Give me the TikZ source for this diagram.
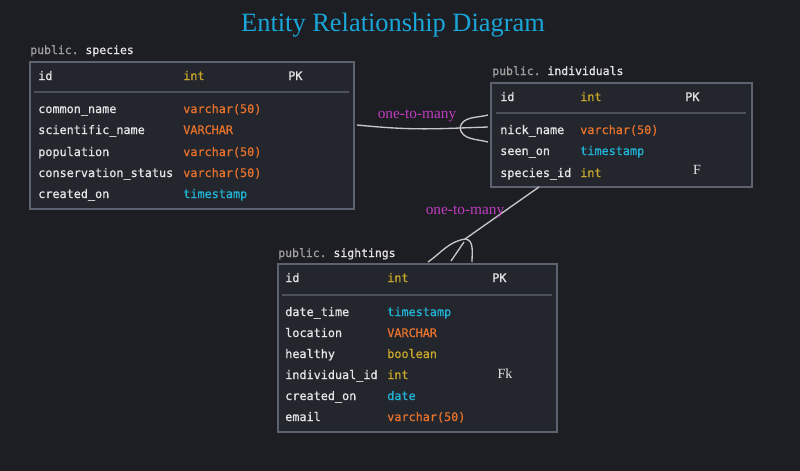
\documentclass[tikz,border=0pt]{standalone}
\usepackage{fontspec}
\setmainfont{Liberation Serif}
\setmonofont[FakeBold=0.8]{DejaVu Sans Mono}

\definecolor{bg}{HTML}{1D1E23}
\definecolor{tblfill}{HTML}{23262D}
\definecolor{tblline}{HTML}{5D6270}
\definecolor{sepline}{HTML}{4D515B}
\definecolor{fieldtext}{HTML}{E4E4E4}
\definecolor{pubgray}{HTML}{A0A0A0}
\definecolor{yell}{HTML}{C9A82A}
\definecolor{orng}{HTML}{E8722C}
\definecolor{cyn}{HTML}{22B4D6}
\definecolor{titlecol}{HTML}{1AA6D8}
\definecolor{relcol}{HTML}{C03CC0}
\definecolor{linkcol}{HTML}{C8C8C8}

\tikzset{
  tbl/.style={draw=tblline, line width=1.5pt, fill=tblfill, inner sep=0pt},
  fld/.style={anchor=base west, inner sep=0pt, font=\fontsize{8.85}{10}\ttfamily, text=fieldtext},
  tname/.style={fld, font=\fontsize{8.6}{10}\ttfamily},
  sep/.style={draw=sepline, line width=0.9pt},
  rel/.style={font=\fontsize{11.5}{13}\selectfont, text=relcol, inner sep=0pt},
  key/.style={font=\fontsize{10.5}{12}\selectfont, text=fieldtext, inner sep=0pt},
  link/.style={draw=linkcol, line width=1pt}
}

\begin{document}
\begin{tikzpicture}[x=0.75pt, y=-0.75pt]
    \fill[bg] (0,0) rectangle (800,471);
    \useasboundingbox (0,0) rectangle (800,471);

    \node[font=\fontsize{19.8}{22}\selectfont, text=titlecol] (title) at (393,25) {Entity Relationship Diagram};

    % species
    \node[tbl, minimum width=324*0.75pt, minimum height=147*0.75pt] (species) at (191.5,135) {};
    \node[tname] (species-lbl) at (30,54) {\textcolor{pubgray}{public.} species};
    \node[fld] (species-id) at (38,80) {id};
    \node[fld, text=yell] (species-idt) at (183,80) {int};
    \node[fld] (species-pk) at (288,80) {PK};
    \draw[sep] (34,92) -- (349,92);
    \foreach \y/\n/\t/\c [count=\i] in {113/common\_name/varchar(50)/orng,
        134/scientific\_name/VARCHAR/orng,
        156/population/varchar(50)/orng,
        177/conservation\_status/varchar(50)/orng,
        198/created\_on/timestamp/cyn} {
        \node[fld] (species-n\i) at (38,\y) {\n};
        \node[fld, text=\c] (species-t\i) at (183,\y) {\t};
    }

    % individuals
    \node[tbl, minimum width=261*0.75pt, minimum height=104*0.75pt] (individuals) at (621,134.5) {};
    \node[tname] (individuals-lbl) at (492,75) {\textcolor{pubgray}{public.} individuals};
    \node[fld] (individuals-id) at (500,101) {id};
    \node[fld, text=yell] (individuals-idt) at (580,101) {int};
    \node[fld] (individuals-pk) at (685,101) {PK};
    \draw[sep] (496,113) -- (746,113);
    \foreach \y/\n/\t/\c [count=\i] in {134/nick\_name/varchar(50)/orng,
        155/seen\_on/timestamp/cyn,
        177/species\_id/int/yell} {
        \node[fld] (individuals-n\i) at (500,\y) {\n};
        \node[fld, text=\c] (individuals-t\i) at (580,\y) {\t};
    }
    \node[key] (individuals-fk) at (697,170) {F};

    % sightings
    \node[tbl, minimum width=279*0.75pt, minimum height=168*0.75pt] (sightings) at (417,347.5) {};
    \node[tname] (sightings-lbl) at (278,257) {\textcolor{pubgray}{public.} sightings};
    \node[fld] (sightings-id) at (285,282) {id};
    \node[fld, text=yell] (sightings-idt) at (387,282) {int};
    \node[fld] (sightings-pk) at (492,282) {PK};
    \draw[sep] (282,295) -- (552,295);
    \foreach \y/\n/\t/\c [count=\i] in {316/date\_time/timestamp/cyn,
        337/location/VARCHAR/orng,
        358/healthy/boolean/yell,
        379/individual\_id/int/yell,
        400/created\_on/date/cyn,
        421/email/varchar(50)/orng} {
        \node[fld] (sightings-n\i) at (285,\y) {\n};
        \node[fld, text=\c] (sightings-t\i) at (387,\y) {\t};
    }
    \node[key] (sightings-fk) at (505,374) {Fk};

    % species -> individuals
    \coordinate (s1) at (357,125);
    \coordinate (f1) at (460,128);
    \draw[link] (s1) to[bend right=4] (f1);
    \draw[link] (f1) to[out=80, in=195] (488,115);
    \draw[link] (f1) -- (488,127);
    \draw[link] (f1) to[out=-80, in=165] (488,142);
    \node[rel] (rel1) at (417,116) {one-to-many};

    % individuals -> sightings
    \coordinate (s2) at (539,187);
    \coordinate (f2) at (465,239);
    \draw[link] (s2) -- (f2);
    \draw[link] (f2) to[out=190, in=35] (428,262);
    \draw[link] (f2) to[out=-5, in=90] (472,262);
    \draw[link] (451,261) -- (464,242);
    \node[rel] (rel2) at (465,212) {one-to-many};
\end{tikzpicture}
\end{document}
